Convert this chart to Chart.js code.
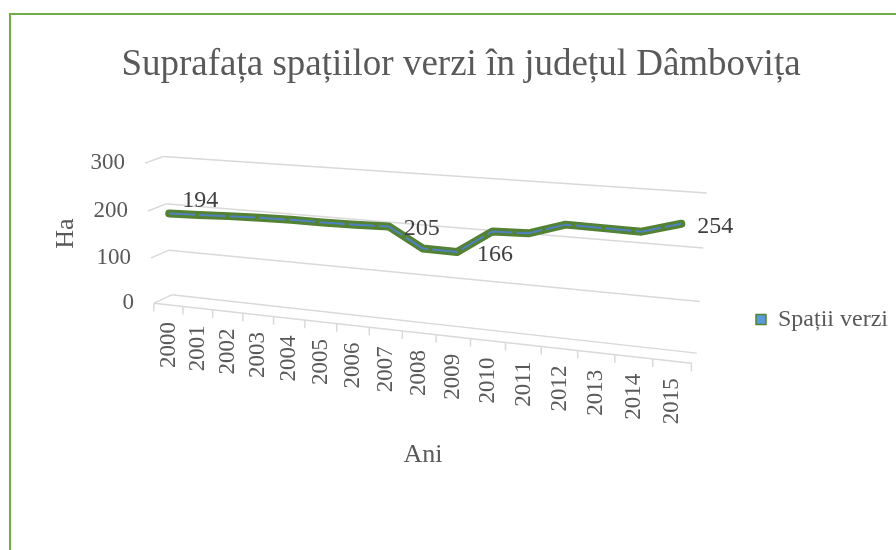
<!DOCTYPE html>
<html lang="ro">
<head>
<meta charset="utf-8">
<title>Suprafața spațiilor verzi în județul Dâmbovița</title>
<script src="https://cdn.jsdelivr.net/npm/chart.js@4.4.0/dist/chart.umd.min.js"></script>
<style>
    html, body { margin: 0; padding: 0; background: #ffffff; }
    canvas { display: block; }
</style>
</head>
<body>
<canvas id="grafic" width="896" height="550"></canvas>
<script>
// DATE
const ani = ['2000', '2001', '2002', '2003', '2004', '2005', '2006', '2007',
             '2008', '2009', '2010', '2011', '2012', '2013', '2014', '2015'];
const spatiiVerzi = [194, 196, 199, 201, 202, 202, 203, 205, 167, 166, 212, 214, 236, 235, 234, 254];
const puncteCuEticheta = [0, 7, 9, 15];
const tickuriY = [0, 100, 200, 300];

// Culori si fonturi
const FONT = "'Liberation Serif', 'Times New Roman', serif";
const GRI_TEXT = '#595959';
const GRI_GRILA = '#d9d9d9';
const VERDE = '#548235';
const ALBASTRU = '#4f81bd';
const ALBASTRU_LEGENDA = '#5b9bd5';
const VERDE_CADRU = '#70ad47';

// Vederea 3D: colturile (stanga-sus, dreapta-sus, dreapta-jos, stanga-jos) ale fiecarui plan
const PERETE_SPATE = [[163.3, 156.7], [706.7, 193.3], [696.7, 353.3], [171.7, 295]];
const PLAN_FATA = [[145, 163.3], [700.7, 201.8], [691.7, 363.3], [154, 303.3]];
const PLAN_LINIE = [[151.4, 162], [702.8, 199.8], [693.3, 361], [160.2, 301.4]];
const DEPLASARE_ETICHETE = [[13, -13], [15, 2], [20, 3], [16, 3]];

// patrat unitate -> patrulater (omografie)
function proiectie(q) {
    const [[x0, y0], [x1, y1], [x2, y2], [x3, y3]] = q;
    const dx1 = x1 - x2, dx2 = x3 - x2, dx3 = x0 - x1 + x2 - x3;
    const dy1 = y1 - y2, dy2 = y3 - y2, dy3 = y0 - y1 + y2 - y3;
    const den = dx1 * dy2 - dx2 * dy1;
    const g = (dx3 * dy2 - dx2 * dy3) / den;
    const h = (dx1 * dy3 - dx3 * dy1) / den;
    const a = x1 - x0 + g * x1, b = x3 - x0 + h * x3, c = x0;
    const d = y1 - y0 + g * y1, e = y3 - y0 + h * y3, f = y0;
    return (u, v) => {
        const w = g * u + h * v + 1;
        return { x: (a * u + b * v + c) / w, y: (d * u + e * v + f) / w };
    };
}

const spate = proiectie(PERETE_SPATE);
const fata = proiectie(PLAN_FATA);
const linie = proiectie(PLAN_LINIE);

function uv(chart, x, y) {
    const ca = chart.chartArea;
    return [(x - ca.left) / (ca.right - ca.left), (y - ca.top) / (ca.bottom - ca.top)];
}

// Plugin care aseaza axele si linia in perspectiva
const perspectiva = {
    id: 'perspectiva',
    afterLayout(chart) {
        const sx = chart.scales.x;
        const sy = chart.scales.y;
        const base = Chart.Scale.prototype;

        // etichetele ies din cutia axei, deci fara decupare
        sx._computeLabelArea = () => undefined;
        sy._computeLabelArea = () => undefined;

        sy._computeGridLineItems = function (area) {
            const items = base._computeGridLineItems.call(this, area);
            items.forEach(it => {
                const v = uv(chart, 0, it.y1)[1];
                const a = spate(0, v), b = spate(1, v), f = fata(0, v);
                it.x1 = a.x; it.y1 = a.y; it.x2 = b.x; it.y2 = b.y;
                it.tx1 = f.x; it.ty1 = f.y; it.tx2 = a.x; it.ty2 = a.y;
            });
            return items;
        };

        sy._computeLabelItems = function (area) {
            const items = base._computeLabelItems.call(this, area);
            items.forEach((it, i) => {
                const py = this.getPixelForTick(i);
                const p = fata(0, uv(chart, 0, py)[1]);
                const [tx, ty] = it.options.translation;
                it.options.translation = [p.x - (chart.chartArea.left - tx), p.y + ty - py];
            });
            return items;
        };

        sx._computeGridLineItems = function (area) {
            const items = base._computeGridLineItems.call(this, area);
            const lung = this.options.grid.tickLength;
            items.forEach(it => {
                const p = fata(uv(chart, it.tx1, 0)[0], 1);
                it.tx1 = it.tx2 = p.x;
                it.ty1 = p.y;
                it.ty2 = p.y + lung;
            });
            return items;
        };

        sx._computeLabelItems = function (area) {
            const items = base._computeLabelItems.call(this, area);
            items.forEach((it, i) => {
                const px = this.getPixelForTick(i);
                const p = fata(uv(chart, px, 0)[0], 1);
                const [tx, ty] = it.options.translation;
                it.options.translation = [p.x + tx - px, p.y + ty - chart.chartArea.bottom];
            });
            return items;
        };

        sx.drawBorder = function () {
            const b = this.options.border;
            const ctx = this.ctx;
            const p1 = fata(0, 1), p2 = fata(1, 1);
            ctx.save();
            ctx.lineWidth = b.width;
            ctx.strokeStyle = b.color;
            ctx.beginPath();
            ctx.moveTo(p1.x, p1.y);
            ctx.lineTo(p2.x, p2.y);
            ctx.stroke();
            ctx.restore();
        };
    },
    afterDatasetsUpdate(chart) {
        chart.data.datasets.forEach((ds, i) => {
            chart.getDatasetMeta(i).data.forEach(pt => {
                const [u, v] = uv(chart, pt.x, pt.y);
                const p = linie(u, v);
                pt.x = p.x;
                pt.y = p.y;
            });
        });
    },
    afterDatasetsDraw(chart) {
        const ctx = chart.ctx;
        const pts = chart.getDatasetMeta(0).data;
        ctx.save();
        ctx.font = '24px ' + FONT;
        ctx.fillStyle = '#404040';
        ctx.textAlign = 'left';
        ctx.textBaseline = 'middle';
        puncteCuEticheta.forEach((idx, k) => {
            const [dx, dy] = DEPLASARE_ETICHETE[k];
            ctx.fillText(String(spatiiVerzi[idx]), pts[idx].x + dx, pts[idx].y + dy);
        });
        ctx.restore();
    },
    afterDraw(chart) {
        const ctx = chart.ctx;
        ctx.save();
        ctx.strokeStyle = VERDE_CADRU;
        ctx.lineWidth = 2;
        ctx.strokeRect(10, 14, 950, 600);
        ctx.restore();
    }
};

Chart.defaults.font.family = FONT;
Chart.defaults.color = GRI_TEXT;

new Chart(document.getElementById('grafic'), {
    type: 'line',
    data: {
        labels: ani,
        datasets: [{
            label: 'Spații verzi',
            data: spatiiVerzi,
            borderColor: VERDE,
            backgroundColor: ALBASTRU_LEGENDA,
            borderWidth: 8,
            borderJoinStyle: 'round',
            borderCapStyle: 'round',
            pointRadius: 0,
            tension: 0,
            clip: false,
            order: 2
        }, {
            label: '',
            data: spatiiVerzi,
            borderColor: ALBASTRU,
            borderWidth: 2,
            borderDash: [26, 4],
            pointRadius: 0,
            tension: 0,
            clip: false,
            order: 1
        }]
    },
    options: {
        responsive: false,
        animation: false,
        events: [],
        layout: { padding: { top: 0, left: 26, right: 0, bottom: 59 } },
        plugins: {
            title: {
                display: true,
                text: 'Suprafața spațiilor verzi în județul Dâmbovița',
                color: GRI_TEXT,
                font: { size: 37, weight: 'normal' },
                padding: { top: 43, bottom: 38.6 }
            },
            legend: {
                position: 'right',
                align: 'center',
                maxWidth: 153,
                title: { display: true, text: ' ', font: { size: 10 }, padding: { top: 68, bottom: 68 } },
                labels: {
                    boxWidth: 10,
                    boxHeight: 10,
                    padding: 13,
                    color: GRI_TEXT,
                    font: { size: 24 },
                    generateLabels: chart => Chart.defaults.plugins.legend.labels.generateLabels(chart)
                        .filter(l => l.datasetIndex === 0)
                        .map(l => Object.assign(l, { fillStyle: ALBASTRU_LEGENDA, strokeStyle: VERDE, lineWidth: 1.5 }))
                }
            },
            tooltip: { enabled: false }
        },
        scales: {
            x: {
                offset: true,
                grid: { offset: true, drawOnChartArea: false, color: GRI_GRILA, lineWidth: 1.5, tickLength: 8 },
                border: { display: true, color: GRI_GRILA, width: 1.5 },
                ticks: { autoSkip: false, minRotation: 90, maxRotation: 90, padding: 9, color: GRI_TEXT, font: { size: 23 } },
                title: { display: true, text: 'Ani', color: GRI_TEXT, font: { size: 26 }, padding: { top: 0, bottom: 20.4 } },
                afterFit: s => { s.height = 150; }
            },
            y: {
                min: tickuriY[0],
                max: tickuriY[tickuriY.length - 1],
                afterBuildTicks: s => { s.ticks = tickuriY.map(v => ({ value: v })); },
                grid: { color: GRI_GRILA, lineWidth: 1.5, tickLength: 8 },
                border: { display: false },
                ticks: { padding: 12, color: GRI_TEXT, font: { size: 23 } },
                title: { display: true, text: 'Ha', color: GRI_TEXT, font: { size: 26 }, padding: { top: 25, bottom: 0 } },
                afterFit: s => { s.width = 77; }
            }
        }
    },
    plugins: [perspectiva]
});
</script>
</body>
</html>
